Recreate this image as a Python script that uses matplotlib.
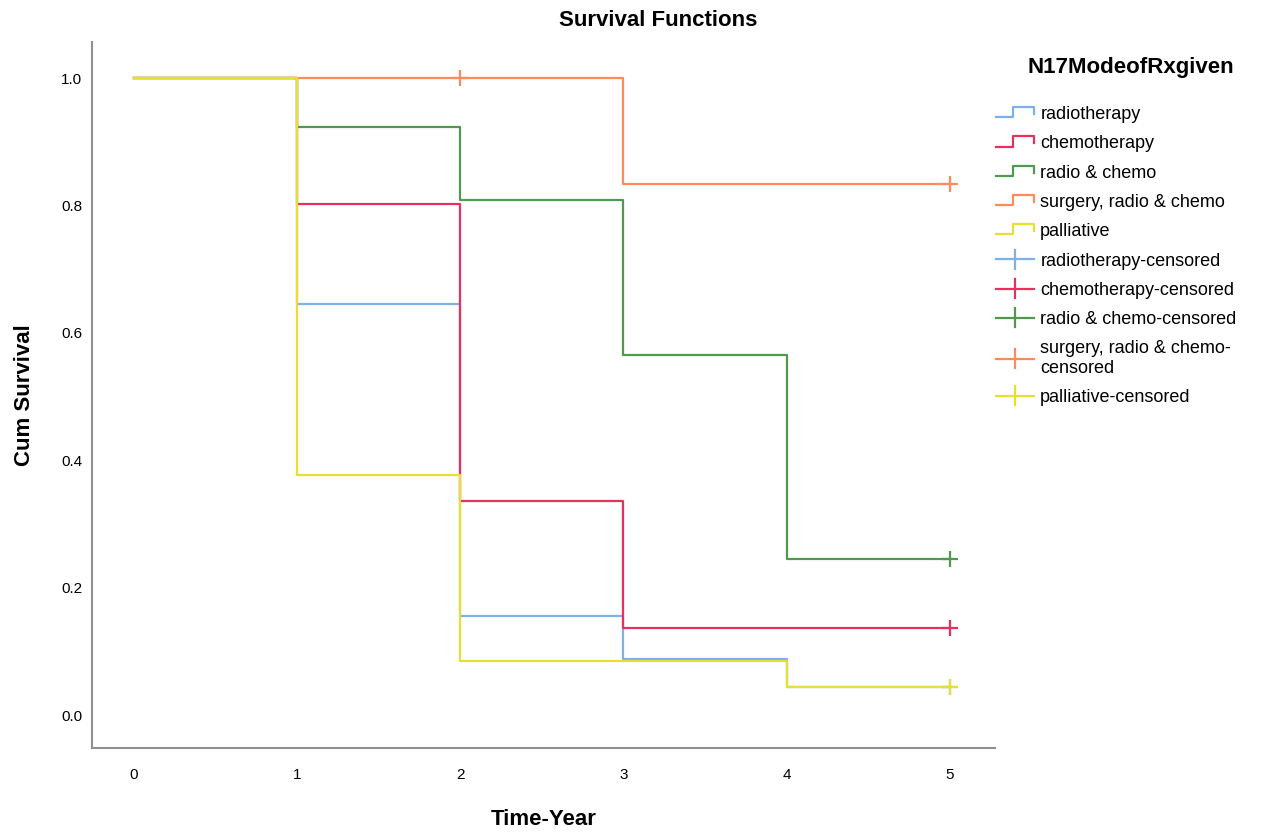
import matplotlib
matplotlib.use("Agg")
import matplotlib.pyplot as plt
from matplotlib.lines import Line2D
from matplotlib.legend_handler import HandlerBase

plt.rcParams['font.family'] = ['Liberation Sans', 'DejaVu Sans']

groups = ["radiotherapy", "chemotherapy", "radio & chemo", "surgery, radio & chemo", "palliative"]
colors = ["#7eb0ea", "#e8305e", "#4f9a4f", "#ff8a5c", "#e8e030"]
times = [0, 1, 2, 3, 4, 5]
surv_radio = [1.0, 0.645, 0.155, 0.088, 0.044, 0.044]
surv_chemo = [1.0, 0.802, 0.336, 0.137, 0.137, 0.137]
surv_rc = [1.0, 0.924, 0.809, 0.565, 0.245, 0.245]
surv_surg = [1.0, 1.0, 1.0, 0.834, 0.834, 0.834]
surv_pall = [1.0, 0.377, 0.085, 0.085, 0.044, 0.044]
survs = [surv_radio, surv_chemo, surv_rc, surv_surg, surv_pall]
censor_times = [[5], [5], [5], [2, 5], [5]]

fig = plt.figure(figsize=(12.76, 8.36), dpi=100)
ax = fig.add_axes([0.0721, 0.105, 0.708, 0.845])

for s, c in zip(survs, colors):
    ax.step(times, s, where='post', color=c, lw=1.6)
for s, c, ct in zip(survs, colors, censor_times):
    ys = [s[times.index(t)] for t in ct]
    ax.plot(ct, ys, linestyle='none', marker='+', markersize=11, mew=1.6, color=c)

ax.set_xlim(-0.257, 5.28)
ax.set_ylim(-0.052, 1.057)
ax.set_xticks(times)
ax.set_yticks([0.0, 0.2, 0.4, 0.6, 0.8, 1.0])
ax.set_yticklabels(["0.0", "0.2", "0.4", "0.6", "0.8", "1.0"])
ax.tick_params(length=0, labelsize=11)
ax.tick_params(axis='x', pad=14)
ax.tick_params(axis='y', pad=7)
for sp in ['top', 'right']:
    ax.spines[sp].set_visible(False)
for sp in ['left', 'bottom']:
    ax.spines[sp].set_color('#909090')
    ax.spines[sp].set_linewidth(1.5)
ax.set_xlabel("Time-Year", fontsize=16, fontweight='bold', labelpad=20)
ax.set_ylabel("Cum Survival", fontsize=16, fontweight='bold')
ax.yaxis.set_label_coords(-0.063, 0.5)
fig.text(0.516, 0.976, "Survival Functions", ha='center', va='center', fontsize=16, fontweight='bold')
fig.text(0.886, 0.919, "N17ModeofRxgiven", ha='center', va='center', fontsize=16, fontweight='bold')


class StepHandler(HandlerBase):
    def create_artists(self, legend, orig_handle, xdescent, ydescent, width, height, fontsize, trans):
        x0, x1 = -xdescent, -xdescent + width
        y0, y1 = -ydescent + height * 0.15, -ydescent + height * 0.95
        xm = x0 + width * 0.45
        l = Line2D([x0, xm, xm, x1, x1], [y0, y0, y1, y1, y0 + height * 0.25],
                   color=orig_handle.get_color(), lw=1.6, transform=trans)
        return [l]


class PlusHandler(HandlerBase):
    def create_artists(self, legend, orig_handle, xdescent, ydescent, width, height, fontsize, trans):
        x0, x1 = -xdescent, -xdescent + width
        ym = -ydescent + height / 2
        xm = x0 + width * 0.5
        h = Line2D([x0, x1], [ym, ym], color=orig_handle.get_color(), lw=1.6, transform=trans)
        v = Line2D([xm, xm], [ym - height * 0.75, ym + height * 0.75], color=orig_handle.get_color(), lw=1.6, transform=trans)
        return [h, v]


step_handles = [Line2D([], [], color=c) for c in colors]
plus_handles = [Line2D([], [], color=c, marker='+') for c in colors]
labels = groups + [g + "-censored" for g in groups]
labels[8] = "surgery, radio & chemo-\ncensored"
hmap = {h: StepHandler() for h in step_handles}
hmap.update({h: PlusHandler() for h in plus_handles})
leg = fig.legend(step_handles + plus_handles, labels, handler_map=hmap,
                 loc='upper left', bbox_to_anchor=(0.7806, 0.873), frameon=False,
                 fontsize=13, borderaxespad=0, borderpad=0,
                 handlelength=2.1, handletextpad=0.35, labelspacing=0.68)

fig.savefig("out.png", dpi=100)
